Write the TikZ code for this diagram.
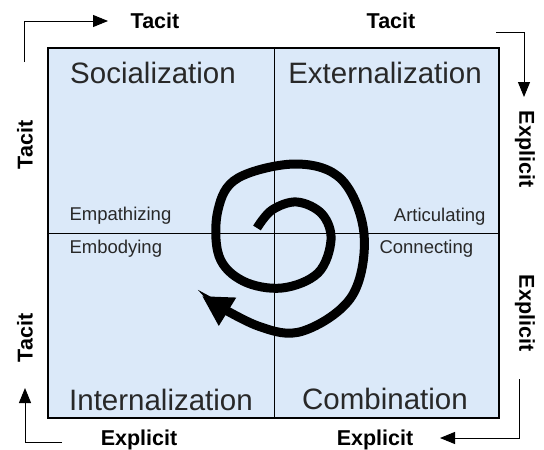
\documentclass[tikz,border=0pt]{standalone}
\usepackage{fontspec}
\setmainfont{Liberation Sans}
\usetikzlibrary{arrows.meta}
\definecolor{quadblue}{RGB}{219,233,249}
\definecolor{titlegray}{RGB}{40,40,40}
\tikzset{
  quadtitle/.style={font=\fontsize{29.5}{32}\selectfont,anchor=base,text=titlegray},
  modelabel/.style={font=\fontsize{18.5}{21}\selectfont,anchor=base,text=titlegray},
  sidelabel/.style={font=\fontsize{21.5}{24}\selectfont\bfseries},
  cornerarrow/.style={line width=1pt,-{Triangle[length=15pt,width=12pt]}}
}
\begin{document}
\begin{tikzpicture}[x=1pt,y=-1pt]
    \useasboundingbox (0,0) rectangle (544,450);
    % the four quadrants
    \draw[fill=quadblue,line width=1.3pt] (48,48) rectangle (499,418);
    \draw[line width=0.8pt] (274,48) -- (274,418);
    \draw[line width=0.8pt] (48,233) -- (499,233);
    \node[quadtitle] (soc) at (153,83) {Socialization};
    \node[quadtitle] (ext) at (385,83) {Externalization};
    \node[quadtitle] (int) at (161,410) {Internalization};
    \node[quadtitle] (com) at (385,409) {Combination};
    \node[modelabel,anchor=base west] (emp) at (66,220) {Empathizing};
    \node[modelabel,anchor=base west] (emb) at (66,253) {Embodying};
    \node[modelabel,anchor=base east] (art) at (489,221) {Articulating};
    \node[modelabel,anchor=base west] (con) at (376,253) {Connecting};
    % spiral
    \draw[line width=9pt,-{Triangle[length=30pt,width=31pt]}] plot[smooth,tension=0.6] coordinates {
        (257,228) (272,210) (297,202) (322,214) (331,240) (318,273) (282,288) (243,281)
        (219,256) (218,210) (238,178) (297,164) (342,180) (364,234) (352,296) (303,331)
        (258,326) (202,296)};
    % side labels
    \node[sidelabel,anchor=base] (tl) at (155,28) {Tacit};
    \node[sidelabel,anchor=base] (tr) at (391,28) {Tacit};
    \node[sidelabel,anchor=base] (bl) at (139,445) {Explicit};
    \node[sidelabel,anchor=base] (br) at (375,445) {Explicit};
    \node[sidelabel,rotate=90] (lt) at (25,145) {Tacit};
    \node[sidelabel,rotate=90] (lb) at (25,338) {Tacit};
    \node[sidelabel,rotate=-90] (rt) at (525,149) {Explicit};
    \node[sidelabel,rotate=-90] (rb) at (525,313) {Explicit};
    % corner arrows
    \coordinate (a1) at (24,62);  \coordinate (a1e) at (108,21);
    \coordinate (a2) at (496,32); \coordinate (a2e) at (524,97);
    \coordinate (a3) at (519,379); \coordinate (a3e) at (440,438);
    \coordinate (a4) at (62,442); \coordinate (a4e) at (25,388);
    \draw[cornerarrow] (a1) |- (a1e);
    \draw[cornerarrow] (a2) -| (a2e);
    \draw[cornerarrow] (a3) |- (a3e);
    \draw[cornerarrow] (a4) -| (a4e);
\end{tikzpicture}
\end{document}
